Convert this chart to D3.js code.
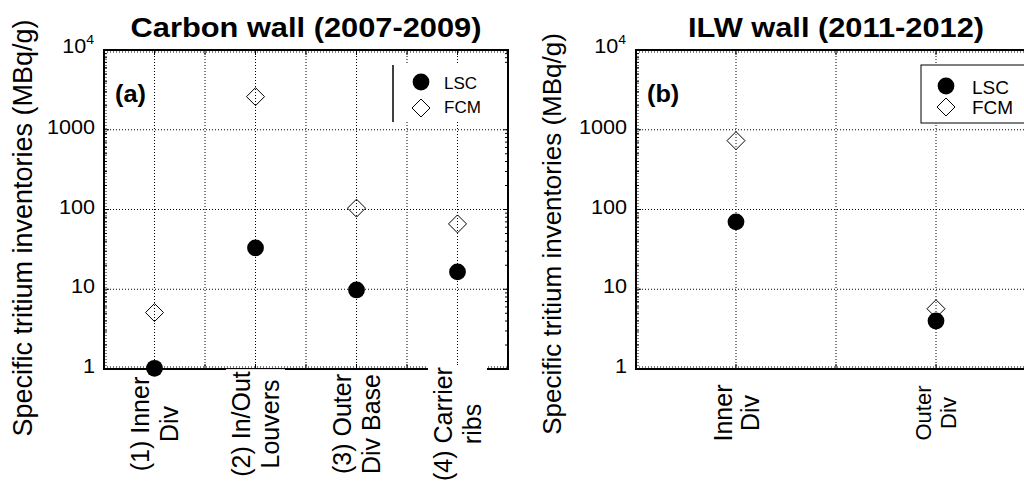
<!DOCTYPE html>
<html><head><meta charset="utf-8">
<script src="https://cdn.jsdelivr.net/npm/d3@7"></script>
<style>
body{margin:0;background:#fff;}
svg{display:block;}
text{font-family:"Liberation Sans",Arial,sans-serif;fill:#000;}
</style>
</head><body>
<svg id="chart" width="1024" height="483"></svg>
<script>
// ---------------- data ----------------
const yTickValues = [1, 10, 100, 1000, 10000];
const yTickLabels = ["1", "10", "100", "1000", "10^4"];
const seriesNames = ["LSC", "FCM"];
const yLabel = "Specific tritium inventories (MBq/g)";

const carbonTitle = "Carbon wall (2007-2009)";
const carbonCategories = [["(1) Inner", "Div"], ["(2) In/Out", "Louvers"], ["(3) Outer", "Div Base"], ["(4) Carrier", "ribs"]];
const carbonLSC = [1.02, 33, 9.8, 16.5];
const carbonFCM = [5.1, 2600, 104, 66];

const ilwTitle = "ILW wall (2011-2012)";
const ilwCategories = [["Inner", "Div"], ["Outer", "Div"]];
const ilwLSC = [70, 4.0];
const ilwFCM = [730, 5.7];

// ---------------- layout ----------------
const svg = d3.select("#chart");
const diamond = {
  draw(ctx, size) {
    const r = Math.sqrt(size / 2);
    ctx.moveTo(0, -r); ctx.lineTo(r, 0); ctx.lineTo(0, r); ctx.lineTo(-r, 0); ctx.closePath();
  }
};
const circlePath = d3.symbol().type(d3.symbolCircle).size(Math.PI * 8.4 * 8.4);
const diamondPath = d3.symbol().type(diamond).size(2 * 9 * 9);

function stext(g, x, y, str, o) {
  const t = g.append("text")
    .attr("transform", `translate(${x},${y}) scale(${o.sx || 1},1)`)
    .attr("text-anchor", o.anchor || "start")
    .style("font-size", o.size + "px")
    .style("font-weight", o.bold ? "bold" : "normal")
    .text(str);
  return t;
}

function drawPanel(cfg, title, cats, lsc, fcm) {
  const x = d3.scaleLinear().domain([0, cats.length * 2]).range([cfg.left, cfg.right]);
  const y = d3.scaleLog().domain([yTickValues[0], yTickValues[yTickValues.length - 1]]).range([cfg.bottom, cfg.top]);
  const catX = cats.map((c, i) => x(2 * i + 1));
  const xGrid = d3.range(1, cats.length * 2);

  const root = svg.append("g");
  const gGrid = root.append("g");
  const gFrame = root.append("g");
  const gBg = root.append("g");
  const gLab = root.append("g");
  const gLeg = root.append("g");
  const gMarks = root.append("g");

  // grid
  gGrid.selectAll(".vg").data(xGrid).join("line")
    .attr("x1", d => x(d)).attr("x2", d => x(d))
    .attr("y1", cfg.top).attr("y2", cfg.bottom)
    .attr("stroke", "#000").attr("stroke-width", 1).attr("stroke-dasharray", "1,2");
  gGrid.selectAll(".hg").data(yTickValues).join("line")
    .attr("x1", cfg.left).attr("x2", cfg.right)
    .attr("y1", d => Math.min(Math.max(y(d), cfg.top + 2), cfg.bottom - 2))
    .attr("y2", d => Math.min(Math.max(y(d), cfg.top + 2), cfg.bottom - 2))
    .attr("stroke", "#000").attr("stroke-width", 1).attr("stroke-dasharray", "1,2");
  gGrid.append("line")
    .attr("x1", cfg.left + 2).attr("x2", cfg.left + 2)
    .attr("y1", cfg.top).attr("y2", cfg.bottom)
    .attr("stroke", "#000").attr("stroke-width", 1).attr("stroke-dasharray", "1,2");

  // frame
  gFrame.append("rect")
    .attr("x", cfg.left).attr("y", cfg.top)
    .attr("width", cfg.right - cfg.left).attr("height", cfg.bottom - cfg.top)
    .attr("fill", "none").attr("stroke", "#000").attr("stroke-width", 2);
  const minor = [];
  for (let k = 0; k < yTickValues.length - 1; k++)
    for (let m = 2; m <= 9; m++) minor.push(yTickValues[k] * m);
  [[yTickValues, 5], [minor, 3]].forEach(([vals, len]) => {
    gFrame.selectAll(null).data(vals).join("line")
      .attr("x1", cfg.left).attr("x2", cfg.left + len)
      .attr("y1", d => y(d)).attr("y2", d => y(d))
      .attr("stroke", "#000").attr("stroke-width", 1);
    gFrame.selectAll(null).data(vals).join("line")
      .attr("x1", cfg.right).attr("x2", cfg.right - len)
      .attr("y1", d => y(d)).attr("y2", d => y(d))
      .attr("stroke", "#000").attr("stroke-width", 1);
  });
  [[cfg.bottom, -5], [cfg.top, 5]].forEach(([yy, len]) => {
    gFrame.selectAll(null).data(xGrid).join("line")
      .attr("x1", d => x(d)).attr("x2", d => x(d))
      .attr("y1", yy).attr("y2", yy + len)
      .attr("stroke", "#000").attr("stroke-width", 1);
  });

  // y tick labels
  yTickValues.forEach((v, i) => {
    const lbl = yTickLabels[i];
    if (lbl.includes("^")) {
      const [b, e] = lbl.split("^");
      const t = stext(gFrame, cfg.left - 10, y(v) + 3, "", { size: 20, sx: 1.08, anchor: "end" });
      t.append("tspan").text(b);
      t.append("tspan").attr("dy", -9).style("font-size", "13px").text(e);
    } else {
      stext(gFrame, cfg.left - 9, y(v) + 4, lbl, { size: 20, sx: 1.08, anchor: "end" });
    }
  });

  // title
  stext(gFrame, (cfg.left + cfg.right) / 2, 37, title, { size: 28, sx: 1.1, bold: true, anchor: "middle" });
  // panel tag
  stext(gFrame, cfg.left + 11, 102, cfg.tag, { size: 23, sx: 1.1, bold: true });
  // y label
  gFrame.append("text")
    .attr("transform", `translate(${cfg.yLabX},${cfg.yLabY}) rotate(-90)`)
    .attr("text-anchor", "middle").style("font-size", cfg.yLabSize + "px").text(yLabel);

  // x category labels (rotated, two lines, with white background)
  cats.forEach((lines, i) => {
    const F = cfg.catSize[i], lh = cfg.catLine[i];
    const g = gLab.append("g")
      .attr("transform", `translate(${catX[i]},${cfg.bottom + cfg.catOffset}) rotate(-90)`);
    const b1 = -lh / 2 + 0.36 * F;
    lines.forEach((t, j) => {
      g.append("text").attr("x", 0).attr("y", b1 + j * lh)
        .attr("text-anchor", "middle").style("font-size", F + "px").text(t);
    });
    const bb = g.node().getBoundingClientRect();
    const padX = 1, padY = 2;
    gBg.append("rect").attr("x", bb.x - padX).attr("y", bb.y - padY)
      .attr("width", bb.width + 2 * padX).attr("height", bb.height + 2 * padY).attr("fill", "#fff");
  });

  // legend
  const L = cfg.legend;
  gLeg.append("rect").attr("x", L.x0).attr("y", L.y0).attr("width", L.x1 - L.x0).attr("height", L.y1 - L.y0)
    .attr("fill", "#fff").attr("stroke", L.box ? "#000" : "none").attr("stroke-width", 1);
  if (!L.box) gLeg.append("line").attr("x1", L.x0).attr("x2", L.x0).attr("y1", L.y0).attr("y2", L.y1)
    .attr("stroke", "#000").attr("stroke-width", 1.5);
  gLeg.append("path").attr("d", circlePath).attr("transform", `translate(${L.mx},${L.my[0]})`).attr("fill", "#000");
  gLeg.append("path").attr("d", diamondPath).attr("transform", `translate(${L.mx},${L.my[1]})`)
    .attr("fill", "none").attr("stroke", "#000").attr("stroke-width", 1);
  seriesNames.forEach((s, i) => stext(gLeg, L.tx, L.ty[i], s, { size: L.size }));

  // marks
  gMarks.selectAll(".fcm").data(fcm).join("path")
    .attr("d", diamondPath)
    .attr("transform", (d, i) => `translate(${catX[i]},${y(d)})`)
    .attr("fill", "none").attr("stroke", "#000").attr("stroke-width", 1);
  gMarks.selectAll(".lsc").data(lsc).join("path")
    .attr("d", circlePath)
    .attr("transform", (d, i) => `translate(${catX[i]},${y(d)})`)
    .attr("fill", "#000");
}

drawPanel({
  left: 104, right: 508, top: 50, bottom: 369, tag: "(a)",
  yLabX: 32, yLabY: 228, yLabSize: 27,
  catOffset: 55, catSize: [25, 25, 25, 25], catLine: [29, 29, 29, 29],
  legend: { x0: 393, x1: 507, y0: 65, y1: 122, box: false, mx: 421, my: [82, 108], tx: 444, ty: [89, 113], size: 17 }
}, carbonTitle, carbonCategories, carbonLSC, carbonFCM);

drawPanel({
  left: 636, right: 1036, top: 50, bottom: 369, tag: "(b)",
  yLabX: 561, yLabY: 234, yLabSize: 26,
  catOffset: 44, catSize: [25, 22], catLine: [27, 25],
  legend: { x0: 921, x1: 1040, y0: 65, y1: 123, box: true, mx: 946, my: [86, 107], tx: 972, ty: [94, 114], size: 19 }
}, ilwTitle, ilwCategories, ilwLSC, ilwFCM);
</script>
</body></html>
